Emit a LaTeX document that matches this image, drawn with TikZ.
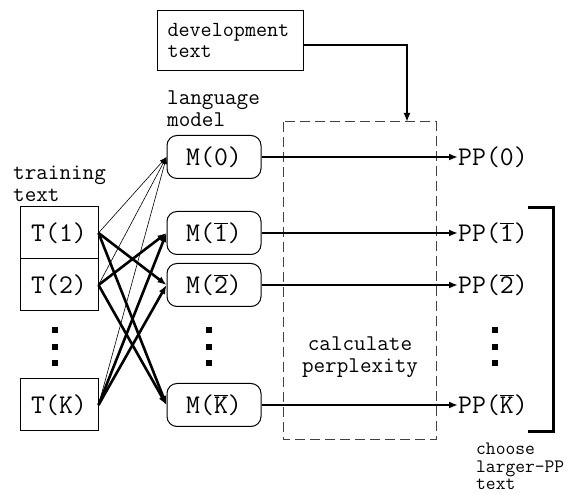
\documentclass[tikz,border=0pt]{standalone}
\usepackage{fontspec}
\usetikzlibrary{arrows.meta}

\newcommand{\nbar}[1]{$\overline{\mbox{#1}}$}

\begin{document}
\begin{tikzpicture}[x=1pt, y=-1pt,
    >={Latex[length=9pt,width=7pt]},
    txt/.style={font=\ttfamily\fontsize{27}{27}\selectfont},
    lbl/.style={font=\ttfamily\fontsize{22.5}{22}\selectfont, align=left, inner sep=0pt},
    tbox/.style={rectangle, draw, line width=1pt, txt, minimum width=78pt, minimum height=52pt, inner sep=0pt},
    mbox/.style={rectangle, draw, line width=1pt, rounded corners=10pt, txt, minimum width=94pt, minimum height=43pt, inner sep=0pt},
    ppn/.style={txt, anchor=west, inner sep=0pt},
    thinarr/.style={->, line width=0.6pt, >={Latex[length=7pt,width=5pt]}},
    thkarr/.style={->, line width=2.6pt},
    evalarr/.style={->, line width=2pt},
  ]
    \useasboundingbox (0,0) rectangle (574,494);

    % development text and the evaluation box
    \node[draw, line width=1pt, anchor=north west, align=left, text width=126pt, inner sep=10pt,
          minimum height=60pt, font=\ttfamily\fontsize{21.5}{21}\selectfont] (dev) at (157,10) {development\\text};
    \draw[dash pattern=on 10pt off 5pt, line width=1pt, draw=black!75] (283,122) rectangle (436,440);
    \coordinate (calctop) at (407,122);
    \node[lbl, align=center] (calc) at (360,357) {calculate\\perplexity};
    \draw[evalarr] (dev.east |- 0,45) -| (calctop);

    % training texts
    \node[lbl, anchor=north west] (trlbl) at (13,166) {training\\text};
    \node[tbox] (t1) at (59,233) {T(1)};
    \node[tbox] (t2) at (59,285) {T(2)};
    \node[tbox] (tk) at (59,405) {T(K)};

    % language models
    \node[lbl, anchor=north west] (lmlbl) at (167,91) {language\\model};
    \node[mbox] (m0) at (214,157) {M(0)};
    \node[mbox] (m1) at (214,233) {M(\nbar{1})};
    \node[mbox] (m2) at (214,285) {M(\nbar{2})};
    \node[mbox] (mk) at (214,405) {M(\nbar{K})};

    % perplexities
    \node[ppn] (p0) at (458,157) {PP(0)};
    \node[ppn] (p1) at (458,233) {PP(\nbar{1})};
    \node[ppn] (p2) at (458,285) {PP(\nbar{2})};
    \node[ppn] (pk) at (458,405) {PP(\nbar{K})};

    % dots
    \foreach \yy in {330,347,363} {
      \fill (52,\yy-3) rectangle (58,\yy+3);
      \fill (206,\yy-3) rectangle (212,\yy+3);
      \fill (492,\yy-3) rectangle (498,\yy+3);
    }

    % training connections
    \draw[thinarr] (t1.east) -- (m0.west);
    \draw[thinarr] (t2.east) -- (m0.west);
    \draw[thinarr] (tk.east) -- (m0.west);
    \draw[thkarr] (t1.east) -- (m2.west);
    \draw[thkarr] (t1.east) -- (mk.west);
    \draw[thkarr] (t2.east) -- (m1.west);
    \draw[thkarr] (t2.east) -- (mk.west);
    \draw[thkarr] (tk.east) -- (m1.west);
    \draw[thkarr] (tk.east) -- (m2.west);

    % evaluation
    \draw[evalarr] (m0.east) -- (p0.west);
    \draw[evalarr] (m1.east) -- (p1.west);
    \draw[evalarr] (m2.east) -- (p2.west);
    \draw[evalarr] (mk.east) -- (pk.west);

    % choice
    \draw[line width=3pt] (528,208) -- (553,208) -- (553,432) -- (528,432);
    \node[anchor=north west, align=left, inner sep=0pt,
          font=\ttfamily\fontsize{19}{17.5}\selectfont] (choose) at (476,443) {choose\\larger-PP\\text};
\end{tikzpicture}
\end{document}
